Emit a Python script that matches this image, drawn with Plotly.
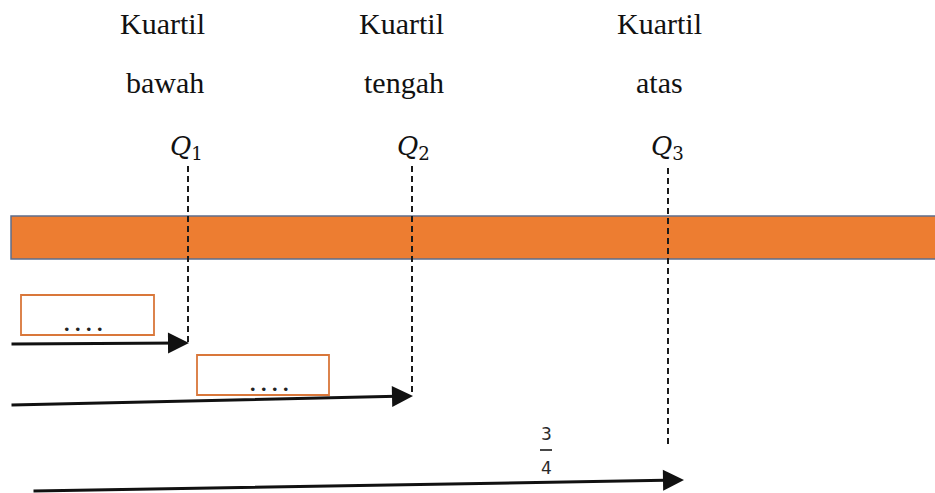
import plotly.graph_objects as go

W, H = 935, 493

# Quartile labels and positions (pixel coordinates of the diagram)
q_names = ["Q", "Q", "Q"]
q_subs = ["1", "2", "3"]
q_x = [188, 412, 668]
q_label_x = [186, 413, 667]
q_line_top = [166, 166, 168]
q_line_bottom = [345, 395, 445]
word1 = ["Kuartil", "Kuartil", "Kuartil"]
word2 = ["bawah", "tengah", "atas"]
word1_x = [162, 401, 659]
word2_x = [165, 404, 659]

# Orange bar
bar_x = [11, 945]
bar_y = [216, 259]

# Small boxes with dots
box_x0 = [21, 197]
box_x1 = [154, 329]
box_y0 = [295, 355]
box_y1 = [335, 395]
box_text = [". . . .", ". . . ."]
box_text_x = [83, 269]
box_text_y = [323, 383]

# Arrows: tail (x, y) -> head (x, y)
arrow_tail_x = [10, 10, 32]
arrow_tail_y = [344, 405, 491]
arrow_head_x = [189, 413, 684]
arrow_head_y = [343, 396, 480]

frac_num = "3"
frac_den = "4"
frac_x = 546

fig = go.Figure()
fig.add_trace(go.Scatter(x=[0, W], y=[0, H], mode="markers",
                         marker=dict(opacity=0), hoverinfo="skip", showlegend=False))

shapes = []
shapes.append(dict(type="rect", x0=bar_x[0], x1=bar_x[1], y0=bar_y[0], y1=bar_y[1],
                   fillcolor="#ED7D31", line=dict(color="#5E6E8C", width=1.5), layer="below"))
for i in range(len(q_x)):
    shapes.append(dict(type="line", x0=q_x[i], x1=q_x[i], y0=q_line_top[i], y1=q_line_bottom[i],
                       line=dict(color="#1a1a1a", width=2, dash="6px,4px")))
for i in range(len(box_x0)):
    shapes.append(dict(type="rect", x0=box_x0[i], x1=box_x1[i], y0=box_y0[i], y1=box_y1[i],
                       fillcolor="white", line=dict(color="#D9773A", width=1.8)))
shapes.append(dict(type="line", x0=frac_x - 6, x1=frac_x + 6, y0=450, y1=450,
                   line=dict(color="#333333", width=1.8)))

ann = []
serif = "Liberation Serif"
for i in range(3):
    ann.append(dict(x=word1_x[i], y=23, text=word1[i], showarrow=False,
                    font=dict(family=serif, size=30, color="#111111")))
    ann.append(dict(x=word2_x[i], y=82, text=word2[i], showarrow=False,
                    font=dict(family=serif, size=30, color="#111111")))
    ann.append(dict(x=q_label_x[i], y=147, text=f"<i>{q_names[i]}</i><sub>{q_subs[i]}</sub>",
                    showarrow=False, font=dict(family="DejaVu Serif", size=26, color="#111111")))
for i in range(len(box_text)):
    ann.append(dict(x=box_text_x[i], y=box_text_y[i], text=f"<b>{box_text[i]}</b>", showarrow=False,
                    font=dict(family=serif, size=22, color="#222222")))
for i in range(len(arrow_head_x)):
    ann.append(dict(x=arrow_head_x[i], y=arrow_head_y[i], ax=arrow_tail_x[i], ay=arrow_tail_y[i],
                    xref="x", yref="y", axref="x", ayref="y", text="", showarrow=True,
                    arrowhead=2, arrowsize=1.4, arrowwidth=3, arrowcolor="#111111"))
ann.append(dict(x=frac_x, y=434, text=frac_num, showarrow=False,
                font=dict(family="DejaVu Sans", size=17, color="#2a2a2a")))
ann.append(dict(x=frac_x, y=468, text=frac_den, showarrow=False,
                font=dict(family="DejaVu Sans", size=17, color="#2a2a2a")))

fig.update_layout(width=W, height=H, margin=dict(l=0, r=0, t=0, b=0),
                  plot_bgcolor="white", paper_bgcolor="white",
                  xaxis=dict(range=[0, W], visible=False, fixedrange=True),
                  yaxis=dict(range=[H, 0], visible=False, fixedrange=True),
                  shapes=shapes, annotations=ann, showlegend=False)
fig.write_html("out.html", config={"displayModeBar": False},
               post_script="document.body.style.margin='0';document.body.style.overflow='hidden';")
